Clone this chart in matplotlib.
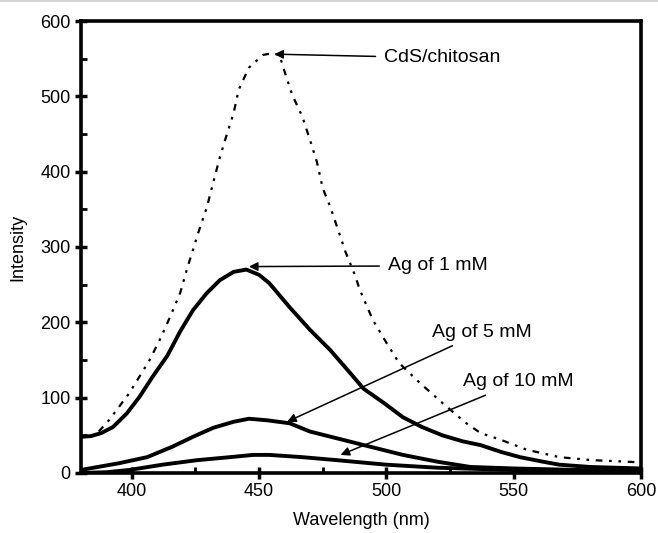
import matplotlib.pyplot as plt
from matplotlib.lines import Line2D
from matplotlib.ticker import MultipleLocator

plt.rcParams['font.family'] = ['Liberation Sans', 'DejaVu Sans']

# emission spectra (wavelength in nm, intensity in a.u.)
wl_cds = [387, 391, 395, 399, 403, 407, 411, 415, 419, 421.6, 424, 426, 429.5,
          432, 434.5, 437, 440, 442, 446, 451.5, 455, 458, 460, 463, 467, 470,
          472.7, 475, 478, 481, 484, 487.5, 489.6, 494.7, 500, 505, 513, 522,
          531, 537, 545, 555, 568, 581, 594.5, 600]
int_cds = [55, 70, 88, 106, 128, 150, 177, 207, 239, 270, 296, 318, 353,
           386, 418, 446, 478, 509, 538, 555, 557, 555, 533, 502, 473, 442,
           413, 378, 353, 323, 293, 264, 243, 203, 173, 146, 120, 93,
           67, 53, 44, 31, 21, 17, 15, 14]

wl_ag1 = [380, 384, 388, 392.6, 398, 403, 408, 414, 419, 424, 429.5, 434.6, 440,
          445, 450, 454, 462, 470, 478, 485.7, 491, 499, 506.5, 514, 522, 530,
          537, 545, 552.5, 561.5, 568, 580, 590, 600]
int_ag1 = [48, 49, 53, 61, 79, 101, 127, 156, 188, 216, 239, 256, 267,
           270, 263, 252, 220, 190, 163, 133, 112, 93, 74, 61, 50, 42,
           37, 28, 21, 15, 11, 8, 7, 6]

wl_ag5 = [380, 395, 406, 416, 424, 432, 440, 446, 453, 462, 470, 480.6, 493.5,
          506.5, 520, 533, 550, 575, 600]
int_ag5 = [4, 13, 21, 35, 48, 60, 68, 72, 70, 66, 55, 46, 35,
           24, 15, 8, 6, 4, 3]

wl_ag10 = [380, 390, 399, 412, 425.6, 438.5, 447.6, 454, 467, 480.6, 500, 520,
           550, 575, 600]
int_ag10 = [0, 1, 4, 11, 17, 21, 24, 24, 21, 17, 11, 7, 4, 3, 2]

# label text, arrow tip (x, y), text anchor (x, y)
labels = ['CdS/chitosan', 'Ag of 1 mM', 'Ag of 5 mM', 'Ag of 10 mM']
tips = [(456, 556), (446, 274), (461, 68), (482, 24)]
anchors = [(499, 551), (500.5, 275), (518, 187), (530, 121)]

fig = plt.figure(figsize=(6.58, 5.33), dpi=100)
ax = fig.add_axes([0.123, 0.1126, 0.851, 0.848])

ax.plot(wl_cds, int_cds, color='black', lw=1.6,
        linestyle=(0, (3, 3, 1.2, 3, 1.2, 3)))
ax.plot(wl_ag1, int_ag1, color='black', lw=2.8, solid_capstyle='round')
ax.plot(wl_ag5, int_ag5, color='black', lw=2.8, solid_capstyle='round')
ax.plot(wl_ag10, int_ag10, color='black', lw=2.8, solid_capstyle='round')

for text, tip, anchor in zip(labels, tips, anchors):
    ax.annotate(text, xy=tip, xytext=anchor, fontsize=14, va='center',
                ha='left',
                arrowprops=dict(arrowstyle='-|>', color='black', lw=1.1,
                                mutation_scale=13, shrinkA=4, shrinkB=0))

ax.set_xlim(380, 600)
ax.set_ylim(0, 600)
ax.xaxis.set_major_locator(MultipleLocator(50))
ax.xaxis.set_minor_locator(MultipleLocator(25))
ax.yaxis.set_major_locator(MultipleLocator(100))
ax.yaxis.set_minor_locator(MultipleLocator(50))
ax.tick_params(which='major', direction='inout', length=8, width=2.5,
               labelsize=13, top=False, right=False)
ax.tick_params(which='minor', direction='in', length=4, width=2,
               top=False, right=False)
for sp in ax.spines.values():
    sp.set_linewidth(2.6)

ax.set_xlabel('Wavelength (nm)', fontsize=13, labelpad=8)
ax.set_ylabel('Intensity', fontsize=13, labelpad=10)

# thin grey rule along the top edge
fig.add_artist(Line2D([0, 1], [0.998, 0.998], color='#cccccc', lw=1.2,
                      transform=fig.transFigure))

fig.savefig('out.png', dpi=100)
